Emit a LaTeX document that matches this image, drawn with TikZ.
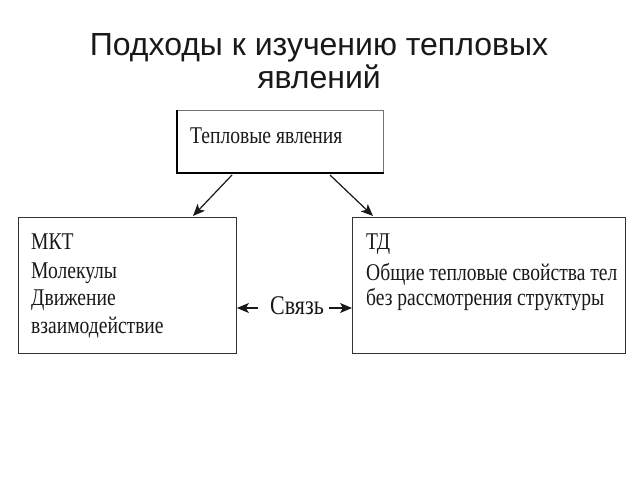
\documentclass[tikz,border=0pt]{standalone}
\usepackage{fontspec}
\setmainfont{Liberation Serif}
\newfontfamily\titlefont{Liberation Sans}
\newfontfamily\bodyfont[FakeStretch=0.815]{Liberation Serif}
\usetikzlibrary{arrows.meta}
\tikzset{
  box/.style={draw=black!80, line width=0.9pt, inner sep=0pt},
  txt/.style={inner sep=0pt, anchor=base west, font=\bodyfont\fontsize{24}{28}\selectfont, text=black!90},
  arr/.style={-{Stealth[length=12pt,width=10pt,inset=3pt]}, line width=1.2pt, black!90},
}
\begin{document}
\begin{tikzpicture}[x=1pt,y=-1pt]
\useasboundingbox (0,0) rectangle (640,480);
\fill[white] (0,0) rectangle (640,480);
% title
\node[inner sep=0pt, anchor=base, font=\titlefont\fontsize{32}{35}\selectfont, text=black!90] (t1) at (319,55) {Подходы к изучению тепловых};
\node[inner sep=0pt, anchor=base, font=\titlefont\fontsize{32}{35}\selectfont, text=black!90] (t2) at (319,88) {явлений};
\fill[white] (0,89) rectangle (640,108);
% boxes
\node[box, draw=black!55, minimum width=206pt, minimum height=62pt, anchor=north west] (top) at (177,110) {};
\draw[black, line width=1.3pt] (top.north west) -- (top.south west) -- (top.south east);
\node[box, minimum width=218pt, minimum height=136pt, anchor=north west] (left) at (18,217) {};
\node[box, minimum width=273pt, minimum height=136pt, anchor=north west] (right) at (352,217) {};
% texts
\node[txt] (tt) at (190,143) {Тепловые явления};
\node[txt] (l1) at (31,249) {МКТ};
\node[txt] (l2) at (31,278) {Молекулы};
\node[txt] (l3) at (31,305) {Движение};
\node[txt] (l4) at (31,333) {взаимодействие};
\node[txt] (r1) at (366,249) {ТД};
\node[txt] (r2) at (366,280) {Общие тепловые свойства тел};
\node[txt] (r3) at (366,305) {без рассмотрения структуры};
\node[inner sep=0pt, anchor=base, font=\bodyfont\fontsize{27}{30}\selectfont, text=black!90] (link) at (297,314) {Связь};
% arrows
\coordinate (a1) at (232,175);
\coordinate (a2) at (330,175);
\draw[arr] (a1) -- (193,216);
\draw[arr] (a2) -- (373,216);
\draw[arr] (link.west |- 0,308) ++(-12,0) -- (left.east |- 0,308);
\draw[arr] (link.east |- 0,308) ++(5,0) -- (right.west |- 0,308);
\end{tikzpicture}
\end{document}
